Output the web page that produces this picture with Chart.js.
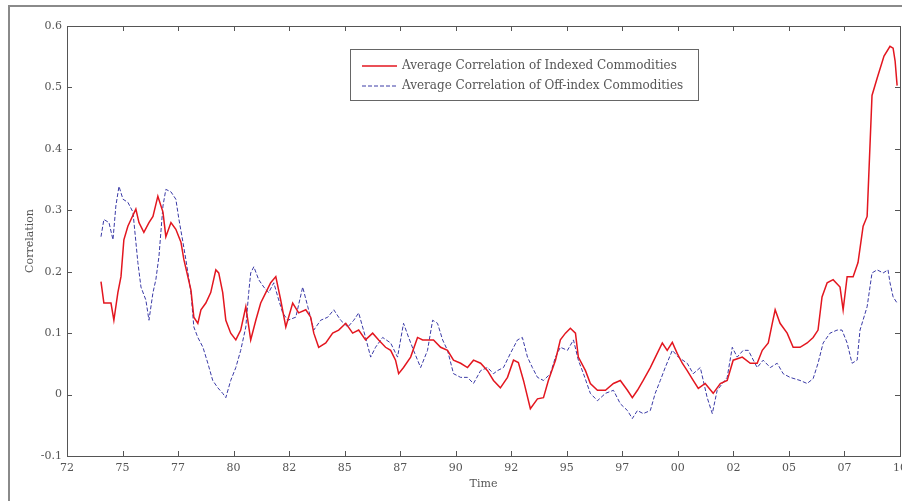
<!DOCTYPE html>
<html>
<head>
<meta charset="utf-8">
<script src="https://cdn.jsdelivr.net/npm/chart.js@4"></script>
<style>
  body { margin: 0; background: #fff; }
  canvas { display: block; }
</style>
</head>
<body>
<canvas id="canvas" width="902" height="501"></canvas>
<script>
// values (x in years, y = correlation)
var redYears = [1973.53,1973.66,1973.98,1974.11,1974.29,1974.43,1974.56,1974.74,1974.88,1975.10,1975.24,1975.46,1975.69,1975.87,1976.09,1976.32,1976.45,1976.68,1976.90,1977.13,1977.26,1977.44,1977.58,1977.71,1977.89,1978.03,1978.25,1978.47,1978.70,1978.83,1979.01,1979.15,1979.37,1979.60,1979.82,1980.05,1980.27,1980.50,1980.72,1980.95,1981.17,1981.40,1981.62,1981.85,1982.16,1982.43,1982.75,1982.97,1983.11,1983.33,1983.65,1983.96,1984.23,1984.55,1984.86,1985.13,1985.44,1985.76,1986.03,1986.34,1986.57,1986.79,1986.93,1987.15,1987.47,1987.78,1988.01,1988.23,1988.50,1988.82,1989.13,1989.40,1989.72,1990.03,1990.30,1990.62,1990.93,1991.20,1991.51,1991.83,1992.10,1992.32,1992.55,1992.86,1993.18,1993.45,1993.67,1993.99,1994.21,1994.44,1994.66,1994.89,1995.02,1995.34,1995.56,1995.88,1996.24,1996.60,1996.91,1997.23,1997.45,1997.68,1997.94,1998.26,1998.57,1998.80,1999.02,1999.25,1999.47,1999.70,1999.92,2000.19,2000.42,2000.73,2001.09,2001.41,2001.72,2001.99,2002.40,2002.76,2003.07,2003.30,2003.57,2003.75,2003.88,2004.10,2004.42,2004.69,2005.00,2005.32,2005.59,2005.81,2005.99,2006.22,2006.49,2006.80,2006.94,2007.12,2007.39,2007.61,2007.84,2008.02,2008.24,2008.47,2008.78,2009.05,2009.19,2009.28,2009.37];
var redValues = [0.184,0.149,0.149,0.121,0.166,0.192,0.252,0.274,0.285,0.302,0.280,0.264,0.280,0.290,0.323,0.297,0.257,0.280,0.269,0.248,0.220,0.192,0.170,0.126,0.116,0.138,0.149,0.166,0.203,0.198,0.166,0.121,0.100,0.089,0.105,0.143,0.089,0.121,0.149,0.166,0.182,0.192,0.154,0.110,0.149,0.133,0.138,0.126,0.100,0.077,0.084,0.100,0.105,0.116,0.100,0.105,0.089,0.100,0.089,0.077,0.072,0.056,0.034,0.044,0.061,0.093,0.089,0.089,0.089,0.077,0.072,0.056,0.051,0.044,0.056,0.051,0.039,0.023,0.011,0.028,0.056,0.052,0.023,-0.023,-0.007,-0.005,0.023,0.056,0.089,0.100,0.108,0.100,0.061,0.039,0.018,0.007,0.007,0.018,0.023,0.007,-0.005,0.007,0.023,0.044,0.067,0.084,0.072,0.085,0.067,0.051,0.039,0.023,0.010,0.018,0.002,0.018,0.023,0.056,0.061,0.051,0.051,0.072,0.084,0.116,0.138,0.116,0.100,0.077,0.077,0.084,0.093,0.105,0.159,0.182,0.187,0.175,0.138,0.192,0.192,0.215,0.274,0.290,0.487,0.515,0.551,0.567,0.564,0.543,0.503];

var blueYears = [1973.53,1973.66,1973.89,1974.07,1974.20,1974.34,1974.52,1974.74,1974.97,1975.19,1975.33,1975.55,1975.69,1975.87,1976.00,1976.14,1976.32,1976.45,1976.68,1976.90,1977.04,1977.22,1977.35,1977.58,1977.71,1977.89,1978.12,1978.34,1978.56,1978.79,1979.01,1979.15,1979.37,1979.60,1979.82,1980.05,1980.18,1980.27,1980.41,1980.63,1980.86,1981.08,1981.31,1981.49,1981.71,1981.94,1982.30,1982.61,1982.84,1983.11,1983.42,1983.74,1984.01,1984.32,1984.64,1984.91,1985.13,1985.44,1985.67,1985.89,1986.21,1986.57,1986.88,1987.15,1987.38,1987.60,1987.92,1988.23,1988.46,1988.68,1988.91,1989.13,1989.40,1989.72,1990.03,1990.30,1990.62,1990.93,1991.20,1991.38,1991.65,1991.96,1992.28,1992.50,1992.73,1992.95,1993.18,1993.45,1993.76,1993.99,1994.21,1994.53,1994.80,1995.02,1995.25,1995.56,1995.88,1996.24,1996.60,1996.91,1997.23,1997.45,1997.68,1997.94,1998.26,1998.48,1998.71,1998.93,1999.25,1999.52,1999.92,2000.19,2000.51,2000.82,2001.05,2001.27,2001.72,2001.95,2002.17,2002.44,2002.67,2003.07,2003.34,2003.66,2003.97,2004.24,2004.55,2005.00,2005.32,2005.59,2005.81,2006.04,2006.35,2006.67,2006.89,2007.12,2007.34,2007.57,2007.70,2008.02,2008.24,2008.47,2008.74,2008.96,2009.05,2009.19,2009.37];
var blueValues = [0.257,0.285,0.280,0.252,0.307,0.339,0.318,0.313,0.297,0.215,0.175,0.154,0.121,0.166,0.187,0.225,0.307,0.334,0.330,0.318,0.285,0.248,0.220,0.166,0.110,0.093,0.077,0.051,0.023,0.011,0.002,-0.005,0.023,0.044,0.072,0.110,0.166,0.198,0.208,0.187,0.175,0.166,0.182,0.159,0.133,0.121,0.126,0.175,0.143,0.105,0.121,0.126,0.138,0.121,0.110,0.121,0.133,0.093,0.061,0.077,0.093,0.084,0.061,0.116,0.093,0.072,0.044,0.072,0.121,0.116,0.089,0.072,0.034,0.028,0.028,0.018,0.039,0.044,0.034,0.039,0.044,0.067,0.089,0.093,0.061,0.044,0.028,0.023,0.034,0.061,0.077,0.072,0.089,0.056,0.034,0.002,-0.010,0.002,0.007,-0.015,-0.026,-0.039,-0.026,-0.031,-0.026,0.002,0.023,0.044,0.072,0.061,0.051,0.034,0.044,-0.005,-0.031,0.007,0.028,0.077,0.061,0.072,0.072,0.044,0.056,0.044,0.051,0.034,0.028,0.023,0.018,0.026,0.051,0.084,0.100,0.105,0.105,0.084,0.051,0.056,0.105,0.143,0.198,0.203,0.198,0.203,0.182,0.159,0.149];

var xLabels = ['72','75','77','80','82','85','87','90','92','95','97','00','02','05','07','10'];
var yLabels = ['-0.1','0','0.1','0.2','0.3','0.4','0.5','0.6'];

var seriesNames = ['Average Correlation of Indexed Commodities', 'Average Correlation of Off-index Commodities'];

function toPoints(xs, ys) {
    return xs.map(function(x, i) { return {x: x, y: ys[i]}; });
}

var textFont = {family: 'DejaVu Serif', size: 11};
var textColor = '#555';

// box, inward ticks on all four sides, figure frame and the legend box
var matlabAxes = {
    id: 'matlabAxes',
    afterDraw: function(chart) {
        var ctx = chart.ctx;
        var a = chart.chartArea;
        var xs = chart.scales.x, ys = chart.scales.y;
        ctx.save();

        // figure frame
        ctx.strokeStyle = '#8a8a8a';
        ctx.lineWidth = 2;
        ctx.beginPath();
        ctx.moveTo(9, 501);
        ctx.lineTo(9, 6);
        ctx.lineTo(902, 6);
        ctx.stroke();

        ctx.strokeStyle = '#555';
        ctx.lineWidth = 1;
        ctx.strokeRect(Math.round(a.left) + 0.5, Math.round(a.top) + 0.5,
                       Math.round(a.right - a.left), Math.round(a.bottom - a.top));
        ctx.beginPath();
        xs.ticks.forEach(function(t) {
            var px = Math.round(xs.getPixelForValue(t.value)) + 0.5;
            ctx.moveTo(px, a.bottom); ctx.lineTo(px, a.bottom - 5);
            ctx.moveTo(px, a.top); ctx.lineTo(px, a.top + 5);
        });
        ys.ticks.forEach(function(t) {
            var py = Math.round(ys.getPixelForValue(t.value)) + 0.5;
            ctx.moveTo(a.left, py); ctx.lineTo(a.left + 5, py);
            ctx.moveTo(a.right, py); ctx.lineTo(a.right - 5, py);
        });
        ctx.stroke();

        // legend
        var lx = 350, ly = 49, lw = 348, lh = 51;
        ctx.fillStyle = '#fff';
        ctx.fillRect(lx, ly, lw, lh);
        ctx.strokeStyle = '#666';
        ctx.strokeRect(lx + 0.5, ly + 0.5, lw, lh);
        ctx.font = '12px "DejaVu Serif"';
        ctx.textBaseline = 'middle';
        chart.data.datasets.forEach(function(ds, i) {
            var ry = ly + 17 + i * 20;
            ctx.strokeStyle = ds.borderColor;
            ctx.lineWidth = ds.borderWidth;
            ctx.setLineDash(ds.borderDash || []);
            ctx.beginPath();
            ctx.moveTo(lx + 12, ry); ctx.lineTo(lx + 47, ry);
            ctx.stroke();
            ctx.setLineDash([]);
            ctx.fillStyle = textColor;
            ctx.fillText(ds.label, lx + 52, ry);
        });
        ctx.restore();
    }
};

var config = {
    type: 'line',
    data: {
        datasets: [{
                label: seriesNames[0],
                data: toPoints(redYears, redValues),
                borderColor: '#e3161f',
                borderWidth: 1.5,
                pointRadius: 0,
                tension: 0,
                fill: false
            },
            {
                label: seriesNames[1],
                data: toPoints(blueYears, blueValues),
                borderColor: '#3a3aa6',
                borderWidth: 1,
                borderDash: [4, 2],
                pointRadius: 0,
                tension: 0,
                fill: false
            }
        ]
    },
    options: {
        responsive: false,
        animation: false,
        layout: {padding: {left: 0, top: 26, right: 2, bottom: 0}},
        plugins: {
            legend: {display: false},
            tooltip: {enabled: false}
        },
        scales: {
            x: {
                type: 'linear',
                min: 1972,
                max: 2009.5,
                grid: {display: false, drawTicks: false},
                border: {display: false},
                ticks: {
                    stepSize: 2.5,
                    autoSkip: false,
                    maxRotation: 0,
                    padding: 6,
                    font: textFont,
                    color: textColor,
                    callback: function(v, i) { return xLabels[i]; }
                },
                title: {display: true, text: 'Time', font: textFont, color: textColor, padding: {top: 0, bottom: 10}},
                afterFit: function(s) { s.height = 45; s.paddingLeft = 0; s.paddingRight = 0; }
            },
            y: {
                min: -0.1,
                max: 0.6,
                grid: {display: false, drawTicks: false},
                border: {display: false},
                ticks: {
                    stepSize: 0.1,
                    autoSkip: false,
                    padding: 5,
                    font: textFont,
                    color: textColor,
                    callback: function(v, i) { return yLabels[i]; }
                },
                title: {display: true, text: 'Correlation', font: textFont, color: textColor, padding: {top: 24, bottom: 0}},
                afterFit: function(s) { s.width = 67; s.paddingTop = 0; s.paddingBottom = 0; }
            }
        }
    },
    plugins: [matlabAxes]
};

window.addEventListener('load', function() {
    var ctx = document.getElementById('canvas').getContext('2d');
    window.LineChart = new Chart(ctx, config);
});
</script>
</body>
</html>
